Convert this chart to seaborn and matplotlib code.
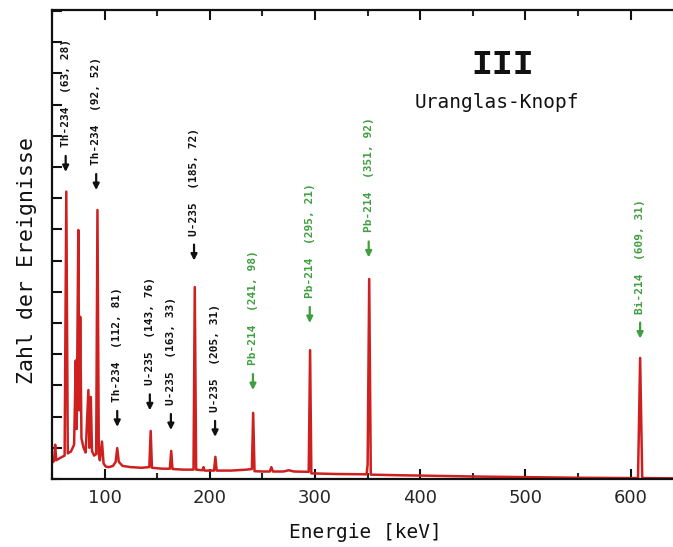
import matplotlib
matplotlib.use("Agg")
import matplotlib.pyplot as plt
from matplotlib.ticker import MultipleLocator, NullFormatter
import numpy as np
import pandas as pd
import seaborn as sns

# ---- data ----
energy_kev = [50, 52, 53, 54, 58, 62, 63.6, 65, 68, 71, 72.6, 73.5, 75, 76, 76.8, 78,
              80, 82, 84.6, 85.5, 86.9, 88, 90, 92, 93.2, 94.5, 95.5, 97.5, 99, 101,
              104, 108, 110.5, 112, 113.5, 117, 125, 135, 142.5, 143.8, 145, 155,
              162, 163.3, 164.5, 175, 184.5, 185.7, 187, 193, 194, 195, 204, 205.3,
              206.5, 220, 235, 240, 241.2, 242.5, 250, 257, 258.5, 260, 270, 275,
              280, 294, 295.3, 296.5, 320, 349, 350, 351.5, 353, 380, 400, 450, 500,
              550, 600, 607, 609, 611, 645]
counts = [0.52, 0.58, 1.10, 0.60, 0.68, 0.75, 9.21, 0.82, 0.88, 1.10, 3.80, 1.60, 7.98, 2.20, 5.20, 1.30,
          1.00, 0.85, 2.85, 1.00, 2.63, 0.90, 0.75, 0.80, 8.62, 0.80, 0.60, 1.20, 0.50, 0.40,
          0.38, 0.42, 0.55, 0.99, 0.55, 0.42, 0.38, 0.36, 0.38, 1.54, 0.36, 0.33,
          0.33, 0.90, 0.32, 0.30, 0.30, 6.15, 0.30, 0.28, 0.38, 0.27, 0.27, 0.71,
          0.27, 0.27, 0.30, 0.32, 2.12, 0.25, 0.24, 0.24, 0.38, 0.24, 0.24, 0.28,
          0.24, 0.23, 4.13, 0.18, 0.16, 0.15, 0.45, 6.41, 0.14, 0.12, 0.11, 0.08, 0.06,
          0.04, 0.03, 0.03, 3.88, 0.03, 0.02]

label_energy = [63, 92, 112, 143, 163, 185, 205, 241, 295, 351, 609]
label_tip = [9.84, 9.26, 1.67, 2.20, 1.57, 7.00, 1.35, 2.85, 5.00, 7.10, 4.50]
label_nuclide = ["Th-234", "Th-234", "Th-234", "U-235", "U-235", "U-235", "U-235",
                 "Pb-214", "Pb-214", "Pb-214", "Bi-214"]
label_value = ["(63, 28)", "(92, 52)", "(112, 81)", "(143, 76)", "(163, 33)", "(185, 72)",
               "(205, 31)", "(241, 98)", "(295, 21)", "(351, 92)", "(609, 31)"]
label_group = ["black"] * 7 + ["green"] * 4

x_ticks = [100, 200, 300, 400, 500, 600]

# ---- style ----
sns.set_style("ticks")
plt.rcParams["font.family"] = ["DejaVu Sans"]

RED = "#cf2020"
GREEN = "#3f9f3f"
colors = {"black": "#111111", "green": GREEN}

W, H = 673, 547
fig = plt.figure(figsize=(W / 100, H / 100), dpi=100)
ax = fig.add_axes([52 / W, (H - 479) / H, 626 / W, 469 / H])

df = pd.DataFrame({"Energie": energy_kev, "Zahl": counts})
sns.lineplot(data=df, x="Energie", y="Zahl", ax=ax, color=RED, linewidth=1.8,
             estimator=None, sort=False)

ax.set_xlim(50, 645)
ax.set_ylim(0, 15.03)

ax.set_xticks(x_ticks)
ax.set_xticklabels([str(t) for t in x_ticks], fontsize=13)
ax.xaxis.set_minor_locator(MultipleLocator(50))
ax.yaxis.set_major_locator(MultipleLocator(1))
ax.yaxis.set_major_formatter(NullFormatter())
ax.tick_params(axis="both", which="major", direction="in", length=7, width=1.5,
               top=True, bottom=True, left=True, right=False, pad=7, color="#111111")
ax.tick_params(axis="x", which="minor", direction="in", length=4.5, width=1.5,
               top=True, bottom=True)
ax.tick_params(axis="y", which="major", length=7)

for side in ["left", "bottom", "top", "right"]:
    ax.spines[side].set_linewidth(1.6)
    ax.spines[side].set_color("#111111")

ax.set_xlabel("")
ax.set_ylabel("")
fig.text(365 / W, 1 - 533 / H, "Energie [keV]", ha="center", va="center",
         fontsize=14, family="DejaVu Sans Mono", color="#111111")
fig.text(27 / W, 1 - 260 / H, "Zahl der Ereignisse", ha="center", va="center",
         rotation=90, fontsize=15.5, family="DejaVu Sans Mono", color="#111111")

fig.text(503 / W, 1 - 65 / H, "III", ha="center", va="center", fontsize=25,
         family="Liberation Mono", fontweight="bold", color="#111111")
fig.text(497 / W, 1 - 103 / H, "Uranglas-Knopf", ha="center", va="center",
         fontsize=14, family="DejaVu Sans Mono", color="#111111")

for e, tip, nuc, val, grp in zip(label_energy, label_tip, label_nuclide, label_value, label_group):
    c = colors[grp]
    ax.annotate("", xy=(e, tip), xytext=(0, 16), textcoords="offset pixels",
                arrowprops=dict(arrowstyle="-|>", color=c, lw=1.6, mutation_scale=9,
                                shrinkA=0, shrinkB=0))
    ax.annotate(nuc + "  " + val, xy=(e, tip), xytext=(0, 25), textcoords="offset pixels",
                rotation=90, ha="center", va="bottom", fontsize=8, fontweight="bold",
                family="DejaVu Sans Mono", color=c)

fig.savefig("out.png", dpi=100, facecolor="white")
